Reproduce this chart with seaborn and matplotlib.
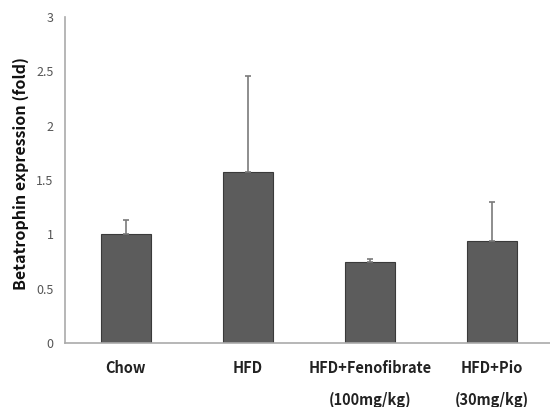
import numpy as np
import pandas as pd
import matplotlib
matplotlib.use("Agg")
import matplotlib.pyplot as plt
import seaborn as sns

sns.set_style("white")
plt.rcParams["font.family"] = ["Noto Sans CJK KR", "DejaVu Sans"]

GROUPS = ["Chow", "HFD", "HFD+Fenofibrate\n(100mg/kg)", "HFD+Pio\n(30mg/kg)"]
MEANS = [1.00, 1.57, 0.75, 0.94]
SD_UP = [0.13, 0.89, 0.025, 0.355]

df = pd.DataFrame({"group": GROUPS, "fold": MEANS})

fig = plt.figure(figsize=(5.5, 4.07), dpi=100)
ax = fig.add_axes([0.118, 0.157, 0.887, 0.801])

sns.barplot(data=df, x="group", y="fold", color="#5c5c5c", width=0.41,
            edgecolor="#3a3a3a", linewidth=0.8, saturation=1, errorbar=None, ax=ax)
ax.errorbar(np.arange(len(GROUPS)), MEANS, yerr=[np.zeros(len(SD_UP)), SD_UP],
            fmt="none", ecolor="#7a7a7a", elinewidth=1.2, capsize=2.5, capthick=1.2, zorder=1)

ax.set_xlim(-0.5, 3.5)
ax.set_ylim(0, 3)
ax.set_yticks(np.arange(0, 3.01, 0.5))
ax.set_yticklabels(["0", "0.5", "1", "1.5", "2", "2.5", "3"])
ax.set_xticks(np.arange(len(GROUPS)))
ax.set_xticklabels(GROUPS, fontsize=10.5, fontweight="bold", color="#222222",
                   linespacing=2.2, va="top")
ax.tick_params(axis="x", length=0, pad=12)
ax.set_xticks([0.5, 1.5, 2.5], minor=True)
ax.tick_params(axis="x", which="minor", length=4, color="#999999", direction="inout")
ax.tick_params(axis="y", length=4, color="#999999", labelsize=9, labelcolor="#555555", pad=4)

for s in ["top", "right"]:
    ax.spines[s].set_visible(False)
for s in ["left", "bottom"]:
    ax.spines[s].set_color("#aaaaaa")
    ax.spines[s].set_linewidth(1.2)

ax.set_xlabel("")
ax.set_ylabel("Betatrophin expression (fold)", fontsize=11.5, fontweight="heavy",
              color="#111111")
ax.yaxis.set_label_coords(-0.074, 0.52)

fig.savefig("out.png", dpi=100)
